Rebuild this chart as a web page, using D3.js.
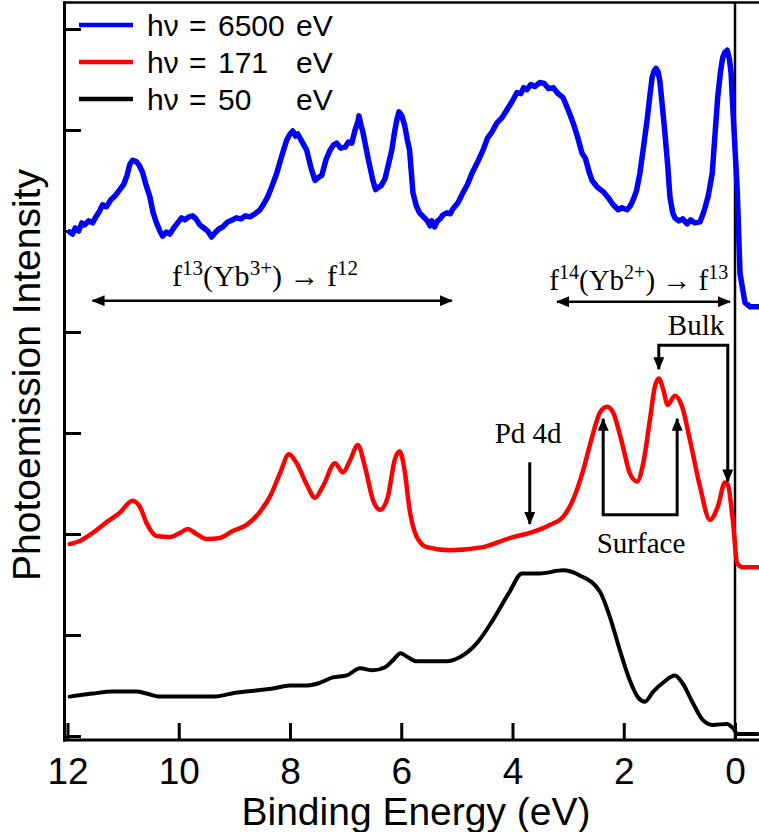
<!DOCTYPE html>
<html><head><meta charset="utf-8">
<script src="https://cdn.jsdelivr.net/npm/d3@7"></script>
<style>body{margin:0;background:#fff}svg{display:block}</style>
</head><body><svg id="c" width="759" height="832"></svg>
<script>
// ---- data ----
const energyTicks = [12, 10, 8, 6, 4, 2, 0];
const intensityTicks = [0, 100, 200, 300, 400, 500, 600, 700];
const photonEnergies = ["6500", "171", "50"];
const seriesColors = ["#0000ff", "#ff0000", "#000000"];

// [binding energy (eV), intensity (arb.)]
const blue6500 = [[11.96,499],[11.91,497],[11.86,503],[11.80,500],[11.74,508],[11.69,506],[11.62,510],[11.55,508],[11.49,514],[11.43,519],[11.37,526],[11.30,524],[11.22,531],[11.14,535],[11.06,541],[10.99,546],[10.93,555],[10.88,566],[10.83,570],[10.77,569],[10.71,565],[10.65,558],[10.59,546],[10.52,534],[10.46,518],[10.40,508],[10.34,500],[10.29,495],[10.22,499],[10.16,497],[10.09,503],[10.02,508],[9.95,513],[9.89,511],[9.82,514],[9.75,515],[9.69,512],[9.62,506],[9.55,503],[9.48,500],[9.41,494],[9.35,498],[9.28,502],[9.21,504],[9.12,509],[9.04,511],[8.96,513],[8.88,512],[8.80,515],[8.72,514],[8.63,517],[8.54,521],[8.47,527],[8.40,534],[8.32,545],[8.24,557],[8.15,574],[8.06,590],[8.00,596],[7.95,599],[7.90,594],[7.86,596],[7.78,588],[7.70,580],[7.62,562],[7.55,550],[7.49,553],[7.43,555],[7.35,571],[7.28,580],[7.22,585],[7.16,587],[7.09,582],[7.01,583],[6.95,588],[6.89,587],[6.83,600],[6.78,608],[6.76,614],[6.72,604],[6.69,598],[6.60,573],[6.51,550],[6.46,541],[6.42,543],[6.36,545],[6.29,552],[6.23,566],[6.17,580],[6.12,598],[6.08,610],[6.04,618],[5.99,614],[5.94,605],[5.89,590],[5.85,580],[5.79,538],[5.73,525],[5.67,518],[5.60,514],[5.53,510],[5.48,505],[5.45,510],[5.40,504],[5.35,510],[5.30,512],[5.25,516],[5.18,518],[5.12,517],[5.07,522],[4.98,528],[4.89,538],[4.81,546],[4.73,557],[4.63,568],[4.53,580],[4.45,592],[4.37,598],[4.28,607],[4.19,612],[4.10,620],[4.01,628],[3.92,637],[3.85,636],[3.80,642],[3.74,640],[3.67,645],[3.60,643],[3.51,647],[3.43,646],[3.35,641],[3.27,642],[3.18,636],[3.09,632],[3.00,620],[2.91,607],[2.84,595],[2.75,577],[2.69,572],[2.62,558],[2.57,550],[2.47,543],[2.37,539],[2.28,533],[2.19,526],[2.10,521],[2.03,523],[1.94,521],[1.88,525],[1.83,531],[1.77,540],[1.71,557],[1.64,585],[1.58,610],[1.53,634],[1.49,652],[1.45,659],[1.42,661],[1.38,657],[1.35,648],[1.30,620],[1.26,597],[1.21,565],[1.17,534],[1.12,518],[1.08,513],[1.01,510],[0.94,512],[0.86,507],[0.80,511],[0.72,508],[0.63,509],[0.58,516],[0.54,523],[0.48,535],[0.41,557],[0.36,595],[0.31,633],[0.26,658],[0.22,672],[0.18,677],[0.14,679],[0.10,670],[0.07,656],[0.04,623],[-0.04,541],[-0.09,458],[-0.18,429],[-0.27,425],[-0.43,425]];

const red171 = [[11.96,190],[11.78,193],[11.55,201],[11.29,212],[11.06,221],[10.83,233],[10.70,227],[10.58,211],[10.40,198],[10.16,197],[9.98,201],[9.84,205],[9.68,200],[9.50,195],[9.26,196],[9.03,203],[8.78,209],[8.54,222],[8.36,237],[8.18,260],[8.02,279],[7.88,270],[7.70,249],[7.55,236],[7.41,247],[7.19,270],[7.05,261],[6.92,273],[6.78,288],[6.65,266],[6.51,234],[6.38,224],[6.24,237],[6.12,273],[6.03,282],[5.94,263],[5.85,224],[5.72,197],[5.54,187],[5.13,184],[4.53,187],[4.05,196],[3.63,202],[3.33,209],[3.09,217],[2.91,234],[2.73,263],[2.57,296],[2.43,320],[2.30,326],[2.19,320],[2.03,290],[1.89,260],[1.76,252],[1.65,270],[1.53,313],[1.44,346],[1.37,354],[1.29,343],[1.21,328],[1.08,337],[0.95,326],[0.81,293],[0.63,247],[0.45,214],[0.31,227],[0.18,251],[0.13,249],[0.04,214],[-0.04,171],[-0.14,167],[-0.43,167]];

const black50 = [[11.96,39],[11.55,42],[11.19,44],[10.76,44],[10.58,42],[10.34,39],[9.98,39],[9.39,39],[8.96,43],[8.31,47],[8.00,50],[7.70,50],[7.50,52],[7.23,58],[6.98,60],[6.74,67],[6.51,65],[6.29,68],[6.15,75],[6.01,82],[5.88,78],[5.72,74],[5.18,74],[4.95,78],[4.64,92],[4.35,115],[4.05,143],[3.83,161],[3.51,161],[3.09,164],[2.79,159],[2.43,143],[2.25,118],[2.07,85],[1.89,55],[1.74,38],[1.62,34],[1.47,44],[1.29,53],[1.08,60],[0.94,52],[0.76,33],[0.58,16],[0.40,11],[0.14,12],[0.04,8],[-0.05,2],[-0.40,2]];

// ---- layout ----
const svg = d3.select("#c");
const x = d3.scaleLinear().domain([12, 0]).range([67.5, 735]);
const y = d3.scaleLinear().domain([0, 700]).range([736, 29]);
const sans = "'Liberation Sans', Arial, sans-serif";
const serif = "'Liberation Serif', 'Times New Roman', serif";

const defs = svg.append("defs");
defs.append("marker").attr("id", "ah").attr("viewBox", "0 0 13 11")
  .attr("refX", 12).attr("refY", 5.5).attr("markerWidth", 13).attr("markerHeight", 11)
  .attr("markerUnits", "userSpaceOnUse").attr("orient", "auto-start-reverse")
  .append("path").attr("d", "M0,0 L13,5.5 L0,11 Z").attr("fill", "#000");

// frame
svg.append("line").attr("x1", 63).attr("x2", 759).attr("y1", 2.5).attr("y2", 2.5).attr("stroke", "#000").attr("stroke-width", 2.5);
svg.append("line").attr("x1", 64.5).attr("x2", 64.5).attr("y1", 1.5).attr("y2", 741.5).attr("stroke", "#000").attr("stroke-width", 3);
svg.append("line").attr("x1", 63).attr("x2", 759).attr("y1", 740).attr("y2", 740).attr("stroke", "#000").attr("stroke-width", 3);
// zero line
svg.append("line").attr("x1", x(0)).attr("x2", x(0)).attr("y1", 2).attr("y2", 740).attr("stroke", "#000").attr("stroke-width", 2.5);

// axes
const xAxis = svg.append("g").attr("transform", "translate(0,740)")
  .call(d3.axisBottom(x).tickValues(energyTicks).tickSize(-17).tickPadding(18).tickFormat(d3.format("d")));
xAxis.select(".domain").remove();
xAxis.selectAll(".tick line").attr("stroke-width", 3);
xAxis.selectAll(".tick text").attr("font-family", sans).attr("font-size", 37).attr("fill", "#000");

const yAxis = svg.append("g").attr("transform", "translate(64,0)")
  .call(d3.axisLeft(y).tickValues(intensityTicks).tickSize(-17).tickFormat(""));
yAxis.select(".domain").remove();
yAxis.selectAll(".tick line").attr("stroke-width", 3);

// axis titles
svg.append("text").attr("x", 416).attr("y", 825).attr("text-anchor", "middle")
  .attr("font-family", sans).attr("font-size", 39).text("Binding Energy (eV)");
svg.append("text").attr("transform", "translate(40,375) rotate(-90)").attr("text-anchor", "middle")
  .attr("font-family", sans).attr("font-size", 39).text("Photoemission Intensity");

// curves
const lineLin = d3.line().x(d => x(d[0])).y(d => y(d[1]));
const lineSmooth = d3.line().x(d => x(d[0])).y(d => y(d[1])).curve(d3.curveMonotoneX);
const series = [
  {data: blue6500, gen: lineLin, w: 5.5},
  {data: red171, gen: lineSmooth, w: 4.5},
  {data: black50, gen: lineSmooth, w: 4}
];
series.forEach((s, i) => {
  svg.append("path").attr("d", s.gen(s.data)).attr("fill", "none")
    .attr("stroke", seriesColors[i]).attr("stroke-width", s.w)
    .attr("stroke-linejoin", "round").attr("stroke-linecap", "round");
});

// legend
const leg = svg.append("g");
photonEnergies.forEach((pe, i) => {
  const yy = 25 + i * 37;
  leg.append("line").attr("x1", 79).attr("x2", 133).attr("y1", yy).attr("y2", yy)
    .attr("stroke", seriesColors[i]).attr("stroke-width", 4.5);
  const t = leg.append("text").attr("y", yy + 11).attr("font-family", sans).attr("font-size", 30);
  t.append("tspan").attr("x", 147).text("h\u03bd");
  t.append("tspan").attr("x", 189).text("=");
  t.append("tspan").attr("x", 218).text(pe);
  t.append("tspan").attr("x", 296).text("eV");
});

// annotations
const ann = svg.append("g").attr("stroke", "#000").attr("fill", "none");
function dbl(e1, e2, I) {
  ann.append("line").attr("x1", x(e1)).attr("x2", x(e2)).attr("y1", y(I)).attr("y2", y(I))
    .attr("stroke-width", 2.5).attr("marker-start", "url(#ah)").attr("marker-end", "url(#ah)");
}
dbl(11.55, 5.09, 431);
dbl(3.20, 0.09, 430);

// Bulk bracket
ann.append("path").attr("d", d3.line()([[x(1.37), y(363)], [x(1.37), y(387)], [x(0.13), y(387)], [x(0.13), y(252)]]))
  .attr("stroke-width", 3).attr("marker-start", "url(#ah)").attr("marker-end", "url(#ah)");
// Surface bracket
ann.append("path").attr("d", d3.line()([[x(2.37), y(314)], [x(2.37), y(219)], [x(1.04), y(219)], [x(1.04), y(314)]]))
  .attr("stroke-width", 3).attr("marker-start", "url(#ah)").attr("marker-end", "url(#ah)");
// Pd 4d arrow
ann.append("line").attr("x1", x(3.69)).attr("x2", x(3.69)).attr("y1", y(271)).attr("y2", y(210))
  .attr("stroke-width", 3).attr("marker-end", "url(#ah)");

function lbl(txt, e, I) {
  svg.append("text").attr("x", x(e)).attr("y", y(I)).attr("text-anchor", "middle")
    .attr("font-family", serif).attr("font-size", 29).text(txt);
}
lbl("Bulk", 0.70, 397);
lbl("Surface", 1.69, 181);
lbl("Pd 4d", 3.72, 290);

function fLabel(e, I, a, b, c, fs) {
  const sfs = Math.round(fs * 0.7), sh = Math.round(fs * 0.37);
  const t = svg.append("text").attr("x", x(e)).attr("y", y(I)).attr("text-anchor", "middle")
    .attr("font-family", serif).attr("font-size", fs);
  t.append("tspan").text("f");
  t.append("tspan").attr("font-size", sfs).attr("dy", -sh).text(a);
  t.append("tspan").attr("dy", sh).text("(Yb");
  t.append("tspan").attr("font-size", sfs).attr("dy", -sh).text(b);
  t.append("tspan").attr("dy", sh).text(") \u2192 f");
  t.append("tspan").attr("font-size", sfs).attr("dy", -sh).text(c);
}
fLabel(8.45, 446, "13", "3+", "12", 30);
fLabel(1.73, 442, "14", "2+", "13", 29);
</script></body></html>
